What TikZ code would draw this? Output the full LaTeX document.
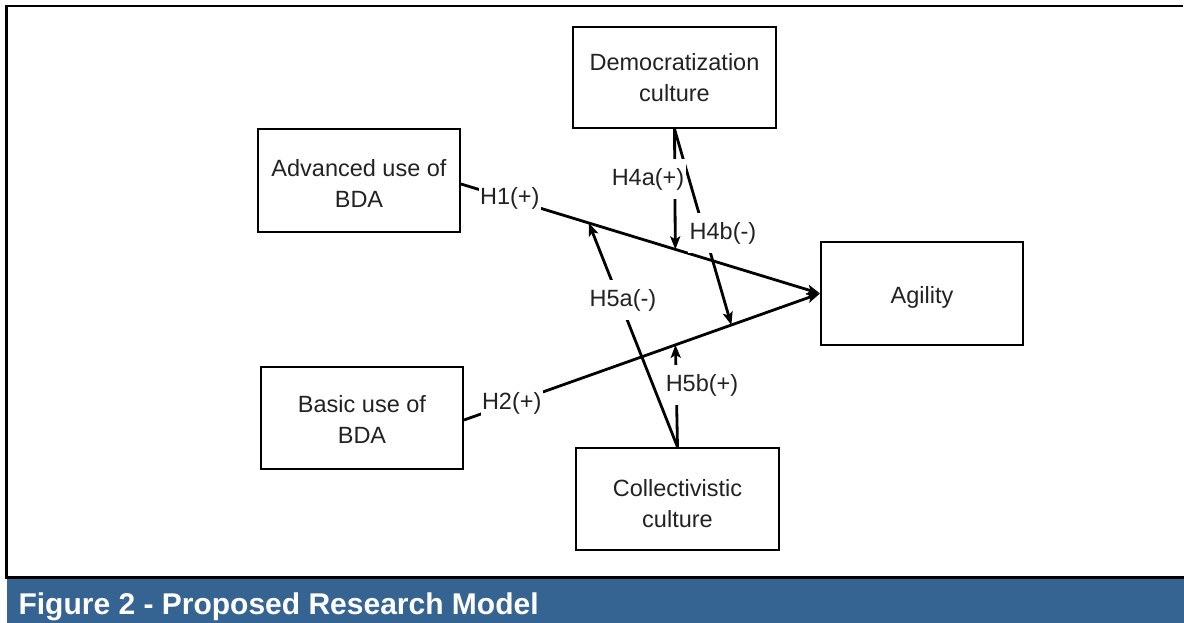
\documentclass[tikz,border=0pt]{standalone}
\usepackage{fontspec}
\setmainfont{Liberation Sans}
\usetikzlibrary{arrows.meta,calc}
\definecolor{capblue}{HTML}{356492}
\definecolor{txt}{HTML}{222222}
\begin{document}
\begin{tikzpicture}[x=1pt,y=-1pt,
  box/.style={draw=black, line width=2pt, inner sep=0pt},
  boxtxt/.style={align=center, inner sep=0pt, text=txt, font=\fontsize{23.5}{31}\selectfont},
  lab/.style={fill=white, inner xsep=1.5pt, inner ysep=9pt, text=txt,
    font=\fontsize{23.5}{28}\selectfont},
  conn/.style={line width=2.8pt, -{Stealth[length=13pt,width=10pt,inset=3pt]}}]
\useasboundingbox (0,0) rectangle (1184,623);
% frame and caption bar
\fill[capblue] (7,577.5) rectangle (1184,623);
\draw[line width=3pt] (5,577) -- (1184,577);
\draw[line width=3pt] (6.5,4.8) -- (6.5,578);
\draw[line width=2.5pt] (5,6) -- (160,6);
\draw[line width=1.2pt] (160,6) -- (1133,6);
\draw[line width=2.5pt] (1133,6) -- (1183,6);
\node[anchor=base west, text=white, font=\bfseries\fontsize{30}{34}\selectfont] (cap) at (15,614) {Figure 2 - Proposed Research Model};
% boxes
\node[box, minimum width=203pt, minimum height=101pt] (demo) at (674.5,77.5) {};
\node[box, minimum width=202pt, minimum height=103pt] (adv) at (359,180.5) {};
\node[box, minimum width=202pt, minimum height=103pt] (agi) at (922,293.5) {};
\node[box, minimum width=202pt, minimum height=102pt] (basic) at (362,418) {};
\node[box, minimum width=203pt, minimum height=102pt] (coll) at (677.5,499) {};
\node[boxtxt] (demot) at (demo.center) {Democratization\\culture};
\node[boxtxt] (advt) at ([yshift=-3pt]adv.center) {Advanced use of\\BDA};
\node[boxtxt] (agit) at ([yshift=-3.5pt]agi.center) {Agility};
\node[boxtxt] (basict) at ([yshift=-1pt]basic.center) {Basic use of\\BDA};
\node[boxtxt] (collt) at ([yshift=-5pt]coll.center) {Collectivistic\\culture};
% connectors
\coordinate (a1) at ([yshift=-3.5pt]adv.east);
\coordinate (b1) at ([yshift=-2pt]basic.east);
\coordinate (g1) at (agi.west);
\draw[conn] (a1) -- coordinate[pos=0.356](p5a) coordinate[pos=0.597](p4a) (g1);
\draw[conn] (b1) -- coordinate[pos=0.594](p5b) coordinate[pos=0.751](p4b) (g1);
\draw[conn] (demo.south) -- (p4a);
\draw[conn] (demo.south) -- (p4b);
\draw[conn] (coll.north) -- (p5a);
\draw[conn] (coll.north) -- (p5b);
% labels
\node[lab] (h1) at ($(a1)!0.136!(g1)$) {H1(+)};
\node[lab] (h2) at ($(b1)!0.134!(g1)$) {H2(+)};
\node[lab] (h4a) at (648,179) {H4a(+)};
\node[lab] (h4b) at (723,233) {H4b(-)};
\node[lab] (h5a) at (623,300) {H5a(-)};
\node[lab] (h5b) at (702,385) {H5b(+)};
\end{tikzpicture}
\end{document}
